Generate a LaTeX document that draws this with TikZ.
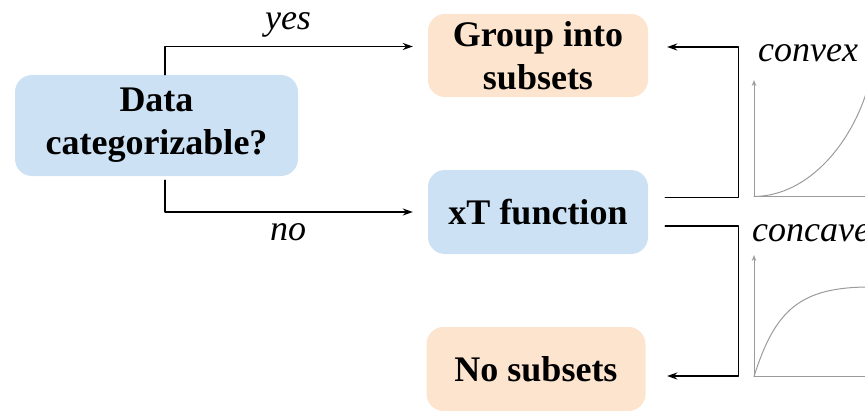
\documentclass[tikz,border=0pt]{standalone}
\usepackage{fontspec}
\setmainfont{Liberation Serif}
\usetikzlibrary{arrows.meta}
\definecolor{boxblue}{RGB}{204,225,243}
\definecolor{boxorange}{RGB}{252,228,206}
\definecolor{axisgray}{RGB}{155,155,155}
\begin{document}
\begin{tikzpicture}[line cap=round,line join=round,x=1pt,y=-1pt,
  box/.style={rounded corners=17pt,align=center,inner sep=0pt,minimum width=220pt,minimum height=84pt,font=\bfseries\fontsize{36}{43}\selectfont},
  arr/.style={line width=1.4pt,-{Stealth[length=10pt,width=7pt]}},
  lbl/.style={font=\itshape\fontsize{36}{43}\selectfont,inner sep=0pt},
  ax/.style={axisgray,line width=1pt,-{Stealth[length=6pt,width=4.5pt]}}]
\useasboundingbox (0,0) rectangle (865,412);
\node[box,fill=boxblue,minimum width=283pt,minimum height=101pt] (data) at (156.5,125.5) {Data\\categorizable?};
\node[box,fill=boxorange,minimum height=83pt] (group) at (538,55.5) {Group into\\subsets};
\node[box,fill=boxblue] (xt) at (538,212) {xT function};
\node[box,fill=boxorange,minimum width=219pt] (nosub) at (536,369) {No subsets};
\draw[arr] ([xshift=8.5pt]data.north) |- ([xshift=-15pt,yshift=9pt]group.west);
\draw[arr] ([xshift=8.5pt,yshift=-4pt]data.south) |- ([xshift=-15pt]xt.west);
\node[lbl,anchor=base] (yes) at (288,30) {yes};
\node[lbl,anchor=base] (no) at (288,240) {no};
\draw[arr] ([xshift=17pt,yshift=14.5pt]xt.east) -- ++(73,0) |- ([xshift=19pt,yshift=8.5pt]group.east);
\draw[arr] ([xshift=17pt,yshift=-14pt]xt.east) -- ++(73,0) |- ([xshift=21.5pt,yshift=-7pt]nosub.east);
\node[lbl,anchor=base west] (cvx) at (758,62) {convex};
\node[lbl,anchor=base west] (ccv) at (752,241) {concave};
% small sketches of the two shapes
\draw[ax] (754,196.5) -- (754,80);
\draw[ax] (754,196.5) -- (875,196.5);
\draw[axisgray,line width=1pt] (754,196.5) .. controls (810,196) and (855,140) .. (870,80);
\draw[ax] (754,376.5) -- (754,255);
\draw[ax] (754,376.5) -- (875,376.5);
\draw[axisgray,line width=1pt] (754,376.5) .. controls (775,310) and (800,287) .. (870,287);
\end{tikzpicture}
\end{document}
